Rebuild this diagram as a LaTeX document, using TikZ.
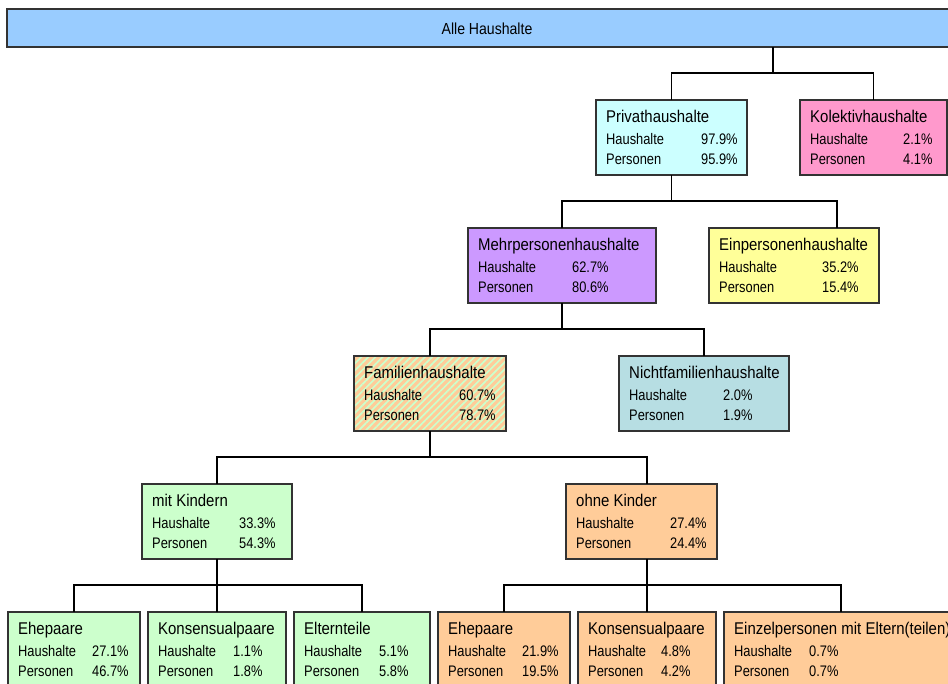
\documentclass[tikz,border=0pt]{standalone}
\usepackage{fontspec}
\setmainfont{Liberation Sans}[FakeStretch=0.88]
\newfontfamily\rowfamily{Liberation Sans}[FakeStretch=0.84]
\usetikzlibrary{patterns.meta}

\definecolor{topblue}{HTML}{99CCFF}
\definecolor{privcyan}{HTML}{CCFFFF}
\definecolor{kolpink}{HTML}{FF99CC}
\definecolor{mehrlilac}{HTML}{CC99FF}
\definecolor{einyellow}{HTML}{FFFF99}
\definecolor{nichtteal}{HTML}{B7DEE3}
\definecolor{kidgreen}{HTML}{CCFFCC}
\definecolor{noorange}{HTML}{FFCC99}
\definecolor{framegray}{HTML}{333333}

\newcommand\titlesize{\fontsize{17}{20}\selectfont}
\newcommand\rowsize{\rowfamily\fontsize{15.3}{18}\selectfont}

\tikzset{
  hhbox/.style={draw=framegray, line width=1.2pt, minimum height=75pt,
    inner sep=0pt, outer sep=0pt},
  hhtitle/.style={anchor=base west, inner sep=0pt, font=\titlesize},
  hhrow/.style={anchor=base west, inner sep=0pt, font=\rowsize},
  conn/.style={draw=black, line width=1.1pt},
}

% \hhnode{name}{left}{top}{width}{fill options}{title}{Haushalte}{Personen}{value column}
\newcommand\hhnode[9]{%
  \node[hhbox, #5, minimum width=#4pt, anchor=north west] (#1) at (#2,#3) {};
  \node[hhtitle] (#1-t)  at ([shift={(10,22.5)}]#1.north west) {#6};
  \node[hhrow]   (#1-hl) at ([shift={(10,44)}]#1.north west) {Haushalte};
  \node[hhrow]   (#1-hv) at ([shift={(#9,44)}]#1.north west) {#7};
  \node[hhrow]   (#1-pl) at ([shift={(10,64)}]#1.north west) {Personen};
  \node[hhrow]   (#1-pv) at ([shift={(#9,64)}]#1.north west) {#8};
}

\begin{document}
\begin{tikzpicture}[x=1pt, y=-1pt]
\useasboundingbox (0,0) rectangle (948,683);
\fill[white] (0,0) rectangle (948,683);
\clip (0,0) rectangle (948,683);

% root
\node[hhbox, fill=topblue, minimum width=962pt, minimum height=38pt,
      anchor=north west] (alle) at (7,9) {};
\node[anchor=base, inner sep=0pt, font=\fontsize{16}{19}\selectfont]
      (alle-t) at (487,34) {Alle Haushalte};

% level 1
\hhnode{priv}{596}{100}{151}{fill=privcyan}{Privathaushalte}{97.9\%}{95.9\%}{105}
\hhnode{kol}{800}{100}{147}{fill=kolpink}{Kolektivhaushalte}{2.1\%}{4.1\%}{103}

% level 2
\hhnode{mehr}{468}{228}{188}{fill=mehrlilac}{Mehrpersonenhaushalte}{62.7\%}{80.6\%}{104}
\hhnode{ein}{709}{228}{170}{fill=einyellow}{Einpersonenhaushalte}{35.2\%}{15.4\%}{113}

% level 3
\hhnode{fam}{354}{356}{152}{preaction={fill=noorange},
  pattern={Lines[angle=45,distance=5pt,line width=1.7pt]}, pattern color=kidgreen}%
  {Familienhaushalte}{60.7\%}{78.7\%}{105}
\hhnode{nicht}{619}{356}{170}{fill=nichtteal}{Nichtfamilienhaushalte}{2.0\%}{1.9\%}{104}

% level 4
\hhnode{mit}{142}{484}{150}{fill=kidgreen}{mit Kindern}{33.3\%}{54.3\%}{97}
\hhnode{ohne}{566}{484}{151}{fill=noorange}{ohne Kinder}{27.4\%}{24.4\%}{104}

% level 5
\hhnode{egr}{8}{612}{132}{fill=kidgreen}{Ehepaare}{27.1\%}{46.7\%}{84}
\hhnode{kgr}{148}{612}{138}{fill=kidgreen}{Konsensualpaare}{1.1\%}{1.8\%}{85}
\hhnode{elt}{294}{612}{136}{fill=kidgreen}{Elternteile}{5.1\%}{5.8\%}{85}
\hhnode{eor}{438}{612}{132}{fill=noorange}{Ehepaare}{21.9\%}{19.5\%}{84}
\hhnode{kor}{578}{612}{138}{fill=noorange}{Konsensualpaare}{4.8\%}{4.2\%}{83}
\hhnode{einz}{724}{612}{270}{fill=noorange}{Einzelpersonen mit Eltern(teilen)}{0.7\%}{0.7\%}{85}

% connector ends that are not box centres
\coordinate (alle-out) at (773,47);
\coordinate (ein-in) at ([xshift=128pt]ein.north west);
\coordinate (ohne-in) at ([xshift=81pt]ohne.north west);
\coordinate (ohne-out) at ([xshift=81pt]ohne.south west);
\coordinate (einz-in) at ([xshift=117pt]einz.north west);

% connectors
\draw[conn] (alle-out) -- ++(0,26) -| (priv.north);
\draw[conn] (alle-out) -- ++(0,26) -| (kol.north);
\draw[conn] (priv.south) -- ++(0,26) -| (mehr.north);
\draw[conn] (priv.south) -- ++(0,26) -| (ein-in);
\draw[conn] (mehr.south) -- ++(0,26) -| (fam.north);
\draw[conn] (mehr.south) -- ++(0,26) -| (nicht.north);
\draw[conn] (fam.south) -- ++(0,26) -| (mit.north);
\draw[conn] (fam.south) -- ++(0,26) -| (ohne-in);
\draw[conn] (mit.south) -- ++(0,26) -| (egr.north);
\draw[conn] (mit.south) -- ++(0,26) -| (kgr.north);
\draw[conn] (mit.south) -- ++(0,26) -| (elt.north);
\draw[conn] (ohne-out) -- ++(0,26) -| (eor.north);
\draw[conn] (ohne-out) -- ++(0,26) -| (kor.north);
\draw[conn] (ohne-out) -- ++(0,26) -| (einz-in);
\end{tikzpicture}
\end{document}
